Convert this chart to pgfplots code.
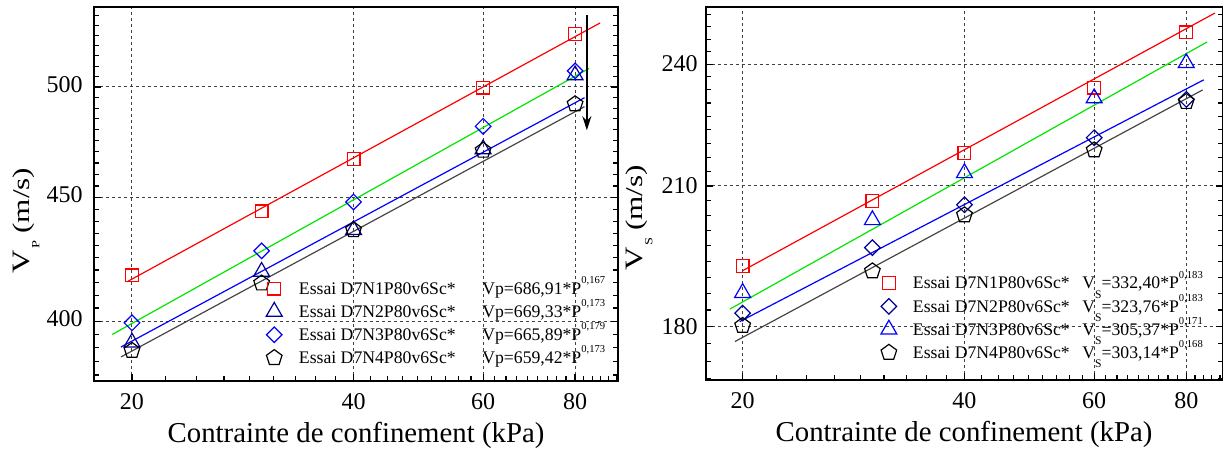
\documentclass[border=0pt]{standalone}
\usepackage{fontspec}
\setmainfont{Liberation Serif}
\usepackage{pgfplots}
\pgfplotsset{compat=1.18}
\usetikzlibrary{arrows.meta,plotmarks}
\definecolor{navyb}{RGB}{0,0,150}
\definecolor{bblue}{RGB}{0,0,255}
\definecolor{lgreen}{RGB}{0,230,0}
\definecolor{dgray}{RGB}{70,70,70}
\newcommand{\sups}[1]{\smash{\raisebox{0.62em}{\fontsize{5.3}{6}\selectfont #1}}}
\newcommand{\subS}{\smash{\raisebox{-0.52em}{\fontsize{5.8}{6}\selectfont S}}}
\newcommand{\lstrut}{\rule[-1.35pt]{0pt}{8.55pt}}
\begin{document}
\begin{tikzpicture}
% ---------------- left panel : Vp ----------------
\begin{axis}[
  scale only axis, xmode=log, ymode=log,
  at={(0pt,0pt)}, anchor=south west,
  width=262pt, height=187pt,
  xmin=17.76, xmax=91.5, ymin=377.9, ymax=539.6,
  axis line style={line width=1pt},
  tick align=inside, xtick pos=bottom, ytick pos=both,
  major tick length=3.5pt, minor tick length=2.5pt,
  tick style={black, line width=0.6pt},
  grid=major,
  major grid style={dash pattern=on 1.5pt off 1.5pt, line width=0.5pt, black!75},
  xtick={20,40,60,80}, xticklabels={20,40,60,80},
  minor xtick={17.778,22.222,24.444,26.667,28.889,31.111,33.333,35.556,37.778,42.222,44.444,46.667,48.889,51.111,53.333,55.556,57.778,62.222,64.444,66.667,68.889,71.111,73.333,75.556,77.778,82.222,84.444,86.667,88.889,91.111},
  ytick={400,450,500}, yticklabels={400,450,500},
  minor ytick={380,385,390,395,405,410,415,420,425,430,435,440,445,455,460,465,470,475,480,485,490,495,505,510,515,520,525,530,535},
  xticklabel style={font=\fontsize{12}{12}\selectfont, anchor=base, yshift=-14.5pt},
  yticklabel style={font=\fontsize{12}{12}\selectfont, anchor=east, xshift=-2.2pt, yshift=1.3pt},
  xlabel={Contrainte de confinement (kPa)},
  xlabel style={font=\fontsize{14.4}{15}\selectfont, at={(axis description cs:0.5,-0.166)}, anchor=base},
  ylabel={\scalebox{1.3}[1]{\fontsize{12.5}{13}\selectfont V\kern0.6pt\raisebox{-5pt}{\fontsize{5.5}{6}\selectfont P}\kern2.6pt\fontsize{12}{13}\selectfont(m/s)}},
  ylabel style={at={(axis description cs:-0.1298,0.429)}, anchor=center},
  legend style={at={(axis description cs:0.328,0.282)}, anchor=north west,
     draw=none, fill=none, inner sep=0pt, font=\fontsize{8.85}{10}\selectfont, row sep=-1.15pt},
  legend cell align=left,
  legend image code/.code={\path (0pt,0pt) (13.65pt,0pt); \draw[#1] plot coordinates {(3.5pt,0pt)};},
]
\addplot[red, line width=0.6pt, forget plot] coordinates {(19.7,415.3) (86.5,531.4)};
\addplot[lgreen, line width=0.6pt, forget plot] coordinates {(18.8,395.0) (83.6,508.9)};
\addplot[bblue, line width=0.6pt, forget plot] coordinates {(19.32,390.3) (82.4,494.9)};
\addplot[dgray, line width=0.6pt, forget plot] coordinates {(19.32,386.6) (82.4,490.7)};
\addplot[red, only marks, mark=square, mark size=3.2pt, mark options={line width=0.6pt, solid}] coordinates {(20,417.8) (30,444.1) (40,466.9) (60,499.7) (80,525.8)};
\addlegendentry{\lstrut\makebox[91.7pt][l]{Essai D7N1P80v6Sc*}Vp=686,91*P\sups{0,167}}
\addplot[navyb, only marks, mark=triangle, mark size=4.6pt, mark options={line width=0.6pt, solid}] coordinates {(20,392.0) (30,419.3) (40,436.3) (60,471.2) (80,505.6)};
\addlegendentry{\lstrut\makebox[91.7pt][l]{Essai D7N2P80v6Sc*}Vp=669,33*P\sups{0,173}}
\addplot[bblue, only marks, mark=square, mark size=2.75pt, mark options={line width=0.6pt, solid, rotate=45}] coordinates {(20,399.4) (30,427.7) (40,448.1) (60,481.6) (80,507.7)};
\addlegendentry{\lstrut\makebox[91.7pt][l]{Essai D7N3P80v6Sc*}Vp=665,89*P\sups{0,179}}
\addplot[black, only marks, mark=pentagon, mark size=4.1pt, mark options={line width=0.6pt, solid}] coordinates {(20,389.0) (30,414.7) (40,436.3) (60,470.6) (80,491.9)};
\addlegendentry{\lstrut\makebox[91.7pt][l]{Essai D7N4P80v6Sc*}Vp=659,42*P\sups{0,173}}
\addplot[black, line width=1pt, -{Stealth[length=7pt,width=4.5pt]}, forget plot] coordinates {(83,535.4) (83,479.8)};
\end{axis}
% ---------------- right panel : Vs ----------------
\begin{axis}[
  scale only axis, xmode=log, ymode=log,
  at={(305.75pt,0.5pt)}, anchor=south west,
  width=258.5pt, height=186.65pt,
  xmin=17.81, xmax=89.6, ymin=169.8, ymax=255.6,
  axis line style={line width=1pt},
  tick align=inside, xtick pos=bottom, ytick pos=both,
  major tick length=3.5pt, minor tick length=2.5pt,
  tick style={black, line width=0.6pt},
  grid=major,
  major grid style={dash pattern=on 1.5pt off 1.5pt, line width=0.5pt, black!75},
  xtick={20,40,60,80}, xticklabels={20,40,60,80},
  minor xtick={17.778,22.222,24.444,26.667,28.889,31.111,33.333,35.556,37.778,42.222,44.444,46.667,48.889,51.111,53.333,55.556,57.778,62.222,64.444,66.667,68.889,71.111,73.333,75.556,77.778,82.222,84.444,86.667,88.889},
  ytick={180,210,240}, yticklabels={180,210,240},
  minor ytick={170,173.333,176.667,183.333,186.667,190,193.333,196.667,200,203.333,206.667,213.333,216.667,220,223.333,226.667,230,233.333,236.667,243.333,246.667,250,253.333},
  xticklabel style={font=\fontsize{12}{12}\selectfont, anchor=base, yshift=-14.5pt},
  yticklabel style={font=\fontsize{12}{12}\selectfont, anchor=east, xshift=-0.4pt},
  xlabel={Contrainte de confinement (kPa)},
  xlabel style={font=\fontsize{14.4}{15}\selectfont, at={(axis description cs:0.5,-0.166)}, anchor=base},
  ylabel={\scalebox{1.3}[1]{\fontsize{12.5}{13}\selectfont V\kern0.6pt\raisebox{-5pt}{\fontsize{5.5}{6}\selectfont S}\kern2.6pt\fontsize{12}{13}\selectfont(m/s)}},
  ylabel style={at={(axis description cs:-0.1286,0.434)}, anchor=center},
  legend style={at={(axis description cs:0.3385,0.294)}, anchor=north west,
     draw=none, fill=none, inner sep=0pt, font=\fontsize{8.85}{10}\selectfont, row sep=-1.15pt},
  legend cell align=left,
  legend image code/.code={\path (0pt,0pt) (13.35pt,0pt); \draw[#1] plot coordinates {(3.5pt,0pt)};},
]
\addplot[red, line width=0.6pt, forget plot] coordinates {(20,191.4) (87.5,253.8)};
\addplot[lgreen, line width=0.6pt, forget plot] coordinates {(19.22,183.5) (85.4,245.9)};
\addplot[bblue, line width=0.6pt, forget plot] coordinates {(19.82,181.0) (84.5,235.9)};
\addplot[dgray, line width=0.6pt, forget plot] coordinates {(19.53,177.1) (84.2,233.3)};
\addplot[red, only marks, mark=square, mark size=3.2pt, mark options={line width=0.6pt, solid}] coordinates {(20,192.4) (30,206.5) (40,217.7) (60,233.9) (80,248.5)};
\addlegendentry{\lstrut\makebox[84.7pt][l]{Essai D7N1P80v6Sc*}V\subS=332,40*P\sups{0,183}}
\addplot[navyb, only marks, mark=square, mark size=2.75pt, mark options={line width=0.6pt, solid, rotate=45}] coordinates {(20,182.7) (30,196.3) (40,205.7) (60,221.4) (80,230.9)};
\addlegendentry{\lstrut\makebox[84.7pt][l]{Essai D7N2P80v6Sc*}V\subS=323,76*P\sups{0,183}}
\addplot[bblue, only marks, mark=triangle, mark size=4.6pt, mark options={line width=0.6pt, solid}] coordinates {(20,186.8) (30,202.3) (40,213.0) (60,231.2) (80,240.3)};
\addlegendentry{\lstrut\makebox[84.7pt][l]{Essai D7N3P80v6Sc*}V\subS=305,37*P\sups{0,171}}
\addplot[black, only marks, mark=pentagon, mark size=4.1pt, mark options={line width=0.6pt, solid}] coordinates {(20,180.2) (30,191.3) (40,203.4) (60,218.4) (80,230.3)};
\addlegendentry{\lstrut\makebox[84.7pt][l]{Essai D7N4P80v6Sc*}V\subS=303,14*P\sups{0,168}}
\end{axis}
\pgfresetboundingbox
\path[use as bounding box] (-47pt,-36.5pt) rectangle (564.5pt,190.5pt);
\end{tikzpicture}
\end{document}
